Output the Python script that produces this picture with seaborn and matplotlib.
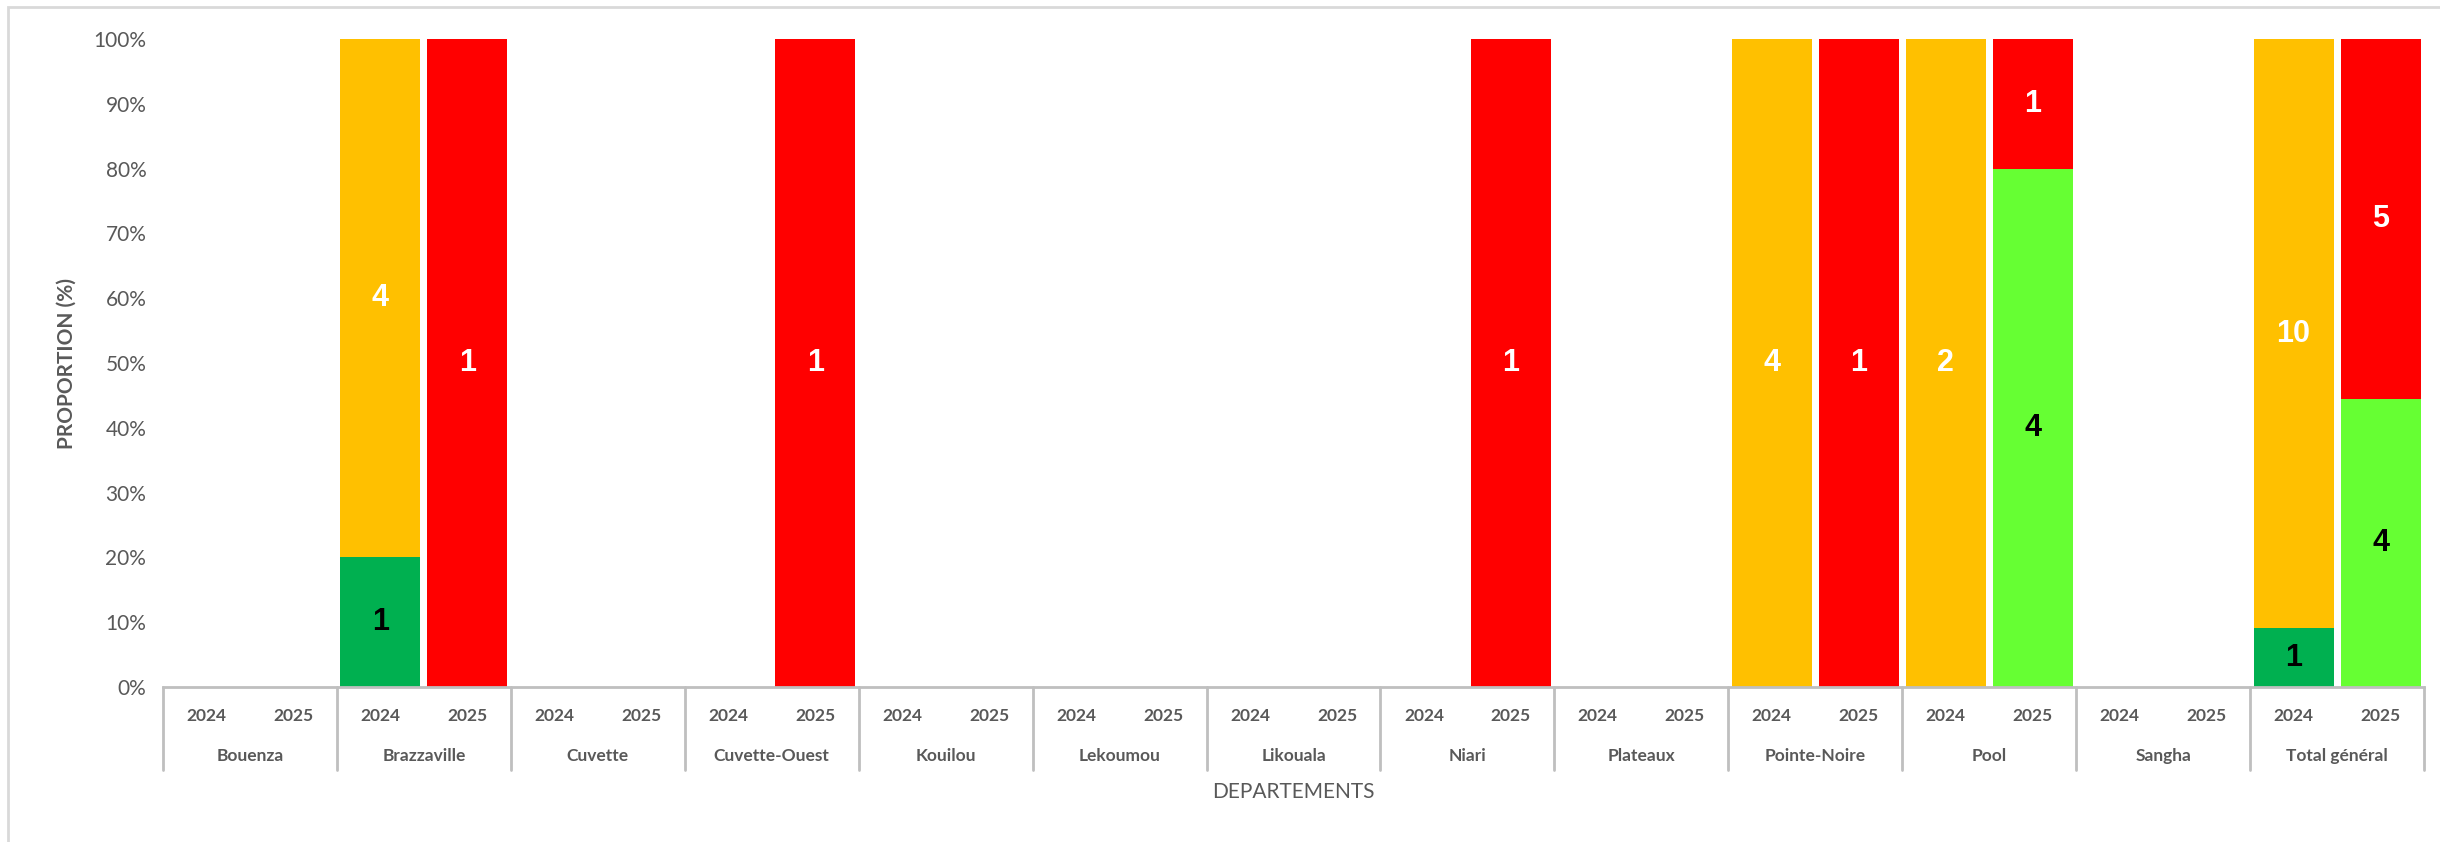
import numpy as np
import pandas as pd
import matplotlib
matplotlib.use("Agg")
import matplotlib.pyplot as plt
from matplotlib.lines import Line2D
from matplotlib.patches import Rectangle
import seaborn as sns

# ---------------- data ----------------
departments = ["Bouenza", "Brazzaville", "Cuvette", "Cuvette-Ouest", "Kouilou",
               "Lekoumou", "Likouala", "Niari", "Plateaux", "Pointe-Noire",
               "Pool", "Sangha", "Total général"]
years = ["2024", "2025"]

# counts per department, for each year and each series
dark_green_2024 = [0, 1, 0, 0, 0, 0, 0, 0, 0, 0, 0, 0, 1]
dark_green_2025 = [0, 0, 0, 0, 0, 0, 0, 0, 0, 0, 0, 0, 0]
light_green_2024 = [0, 0, 0, 0, 0, 0, 0, 0, 0, 0, 0, 0, 0]
light_green_2025 = [0, 0, 0, 0, 0, 0, 0, 0, 0, 0, 4, 0, 4]
orange_2024 = [0, 4, 0, 0, 0, 0, 0, 0, 0, 4, 2, 0, 10]
orange_2025 = [0, 0, 0, 0, 0, 0, 0, 0, 0, 0, 0, 0, 0]
red_2024 = [0, 0, 0, 0, 0, 0, 0, 0, 0, 0, 0, 0, 0]
red_2025 = [0, 1, 0, 1, 0, 0, 0, 1, 0, 1, 1, 0, 5]

series_names = ["dark_green", "light_green", "orange", "red"]
series_colors = {"dark_green": "#00B050", "light_green": "#66FF33",
                 "orange": "#FFC000", "red": "#FF0000"}
label_colors = {"dark_green": "black", "light_green": "black",
                "orange": "white", "red": "white"}
counts = {
    ("dark_green", "2024"): dark_green_2024, ("dark_green", "2025"): dark_green_2025,
    ("light_green", "2024"): light_green_2024, ("light_green", "2025"): light_green_2025,
    ("orange", "2024"): orange_2024, ("orange", "2025"): orange_2025,
    ("red", "2024"): red_2024, ("red", "2025"): red_2025,
}

# ---------------- table ----------------
rows = []
for di, d in enumerate(departments):
    for y in years:
        row = {"slot": f"{d}|{y}", "dept": d, "year": y}
        for s in series_names:
            row[s] = counts[(s, y)][di]
        rows.append(row)
df = pd.DataFrame(rows)
total = df[series_names].sum(axis=1)
for s in series_names:
    df[s + "_pct"] = np.where(total > 0, df[s] / total.replace(0, 1) * 100, 0.0)
cum = np.zeros(len(df))
for s in series_names:
    df[s + "_bot"] = cum
    cum = cum + df[s + "_pct"].values
    df[s + "_top"] = cum
slots = list(df["slot"])

# ---------------- figure ----------------
sns.set_theme(style="white")
plt.rcParams["font.family"] = ["Lato", "DejaVu Sans"]
GRAY = "#595959"

fig = plt.figure(figsize=(24.4, 8.42), dpi=100)
ax = fig.add_axes([163 / 2440, 1 - 687 / 842, (2424 - 163) / 2440, (687 - 39) / 842])

# overlay stacking: draw tallest cumulative first
for s in reversed(series_names):
    sns.barplot(data=df, x="slot", y=s + "_top", order=slots, color=series_colors[s],
                saturation=1, width=0.92, errorbar=None, linewidth=0, ax=ax)

# value labels
for i, r in df.iterrows():
    for s in series_names:
        if r[s] > 0:
            ax.text(i, r[s + "_bot"] + r[s + "_pct"] / 2, f"{int(r[s])}",
                    ha="center", va="center", fontsize=22, fontweight="heavy",
                    color=label_colors[s], family=["Liberation Sans", "DejaVu Sans"])

ax.set_xlim(-0.5, len(slots) - 0.5)
ax.set_ylim(0, 100)
ax.set_yticks(np.arange(0, 101, 10))
ax.set_yticklabels([f"{v}%" for v in range(0, 101, 10)], fontsize=15, color=GRAY)
ax.tick_params(axis="y", length=0, pad=12)
ax.set_xticks([])
ax.set_xlabel("")
ax.set_ylabel("PROPORTION (%)", fontsize=15, fontweight="bold", color=GRAY, labelpad=12)

for sp in ["top", "right", "left"]:
    ax.spines[sp].set_visible(False)
ax.spines["bottom"].set_color("#BFBFBF")
ax.spines["bottom"].set_linewidth(2)

# multi-level category axis
trans = ax.get_xaxis_transform()
for i, r in df.iterrows():
    ax.text(i, -0.045, r["year"], transform=trans, ha="center", va="center",
            fontsize=12.5, fontweight="bold", color=GRAY)
for di, d in enumerate(departments):
    ax.text(2 * di + 0.5, -0.106, d, transform=trans, ha="center", va="center",
            fontsize=12.5, fontweight="bold", color=GRAY)
for k in range(len(departments) + 1):
    ax.add_line(Line2D([2 * k - 0.5, 2 * k - 0.5], [0, -0.128], transform=trans,
                       color="#BFBFBF", linewidth=2, clip_on=False))
ax.text(0.5, -0.162, "DEPARTEMENTS", transform=ax.transAxes, ha="center", va="center",
        fontsize=15, color=GRAY)

# chart outer frame (cut at right/bottom as in the reference)
fig.add_artist(Rectangle((8 / 2440, -0.1), 1.2, 1.1 - 7 / 842, transform=fig.transFigure,
                         fill=False, edgecolor="#D9D9D9", linewidth=2))

fig.savefig("out.png", dpi=100, facecolor="white")
